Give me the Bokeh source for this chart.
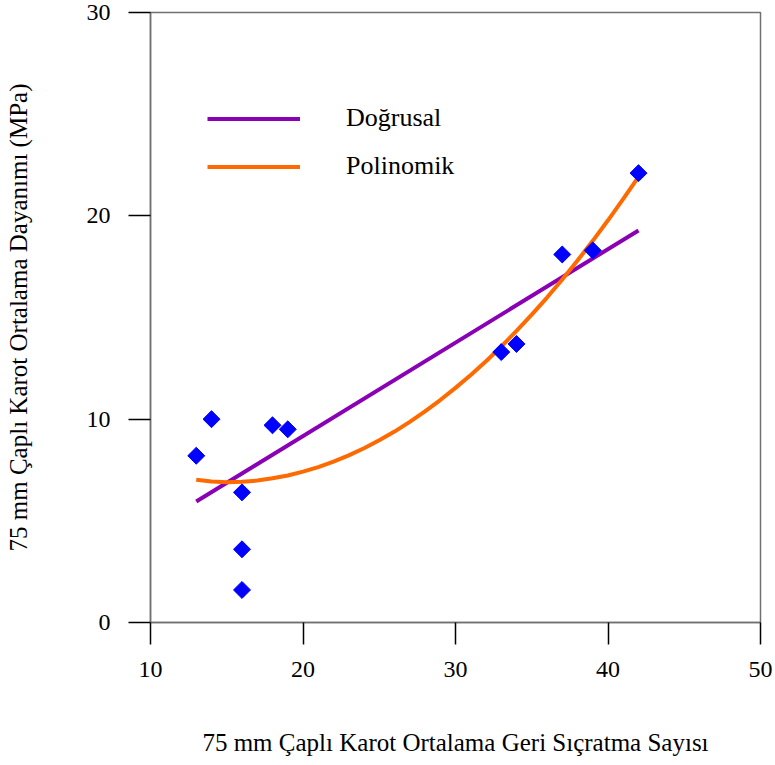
import numpy as np
from bokeh.plotting import figure
from bokeh.models import Range1d, FixedTicker, Legend, LegendItem
from bokeh.embed import file_html
from bokeh.resources import INLINE

# Measured points
x_pts = [13, 14, 16, 16, 16, 18, 19, 33, 34, 37, 39, 42]
y_pts = [8.2, 10.0, 6.4, 3.6, 1.6, 9.7, 9.5, 13.3, 13.7, 18.1, 18.3, 22.1]

# Linear trend line
lin_x = [13, 42]
lin_y = [5.95, 19.28]

# Polynomial trend line
poly_x = [13, 14, 15, 16, 17, 18, 19, 20, 21, 22, 23, 24, 25, 26, 27,
          28, 29, 30, 31, 32, 33, 34, 35, 36, 37, 38, 39, 40, 41, 42]
poly_y = [7.02, 6.94, 6.90, 6.92, 6.98, 7.09, 7.23, 7.42, 7.64, 7.91, 8.22, 8.57, 8.96, 9.39, 9.87,
          10.38, 10.94, 11.54, 12.17, 12.85, 13.57, 14.34, 15.14, 15.98, 16.87, 17.80, 18.77, 19.78, 20.83, 21.92]

x_ticks = [10, 20, 30, 40, 50]
y_ticks = [0, 10, 20, 30]

x_title = "75 mm Çaplı Karot Ortalama Geri Sıçratma Sayısı"
y_title = "75 mm Çaplı Karot Ortalama Dayanımı (MPa)"
labels = ["Doğrusal", "Polinomik"]

FONT = "Liberation Serif"
PURPLE = "#8a00b4"
ORANGE = "#ff6a00"

p = figure(width=775, height=765, output_backend="svg", toolbar_location=None,
           x_range=Range1d(10, 50), y_range=Range1d(0, 30),
           min_border_left=150, min_border_right=15, min_border_top=12, min_border_bottom=143)
p.background_fill_color = "white"
p.border_fill_color = "white"
p.outline_line_color = "#707070"
p.outline_line_width = 1.5
p.grid.visible = False

for ax, ticks in ((p.xaxis[0], x_ticks), (p.yaxis[0], y_ticks)):
    ax.ticker = FixedTicker(ticks=ticks)
    ax.major_tick_out = 22
    ax.major_tick_in = 0
    ax.minor_tick_out = 0
    ax.minor_tick_in = 0
    ax.major_tick_line_color = "black"
    ax.major_tick_line_width = 1.5
    ax.axis_line_color = "#707070"
    ax.axis_line_width = 1.5
    ax.major_label_text_font = FONT
    ax.major_label_text_font_size = "24px"
    ax.major_label_text_color = "black"
    ax.axis_label_text_font = FONT
    ax.axis_label_text_font_size = "25px"
    ax.axis_label_text_font_style = "normal"
    ax.axis_label_text_color = "black"

p.xaxis.axis_label = x_title
p.yaxis.axis_label = y_title
p.xaxis.major_label_standoff = 17
p.yaxis.major_label_standoff = 18
p.xaxis.axis_label_standoff = 49
p.yaxis.axis_label_standoff = 52

r_lin = p.line(lin_x, lin_y, line_color=PURPLE, line_width=4)
r_poly = p.line(poly_x, poly_y, line_color=ORANGE, line_width=4)
p.scatter(x_pts, y_pts, marker="square", size=12, angle=np.pi / 4,
          fill_color="#0000ff", line_color="#0000ff")

legend = Legend(items=[LegendItem(label=labels[0], renderers=[r_lin]),
                       LegendItem(label=labels[1], renderers=[r_poly])],
                location=(57, 441), orientation="vertical",
                glyph_width=93, glyph_height=29, label_height=29,
                label_standoff=46, spacing=18, padding=0, margin=0,
                border_line_color=None, background_fill_alpha=0,
                label_text_font=FONT, label_text_font_size="26px",
                label_text_color="black")
p.add_layout(legend)

open("out.html", "w").write(file_html(p, INLINE))
